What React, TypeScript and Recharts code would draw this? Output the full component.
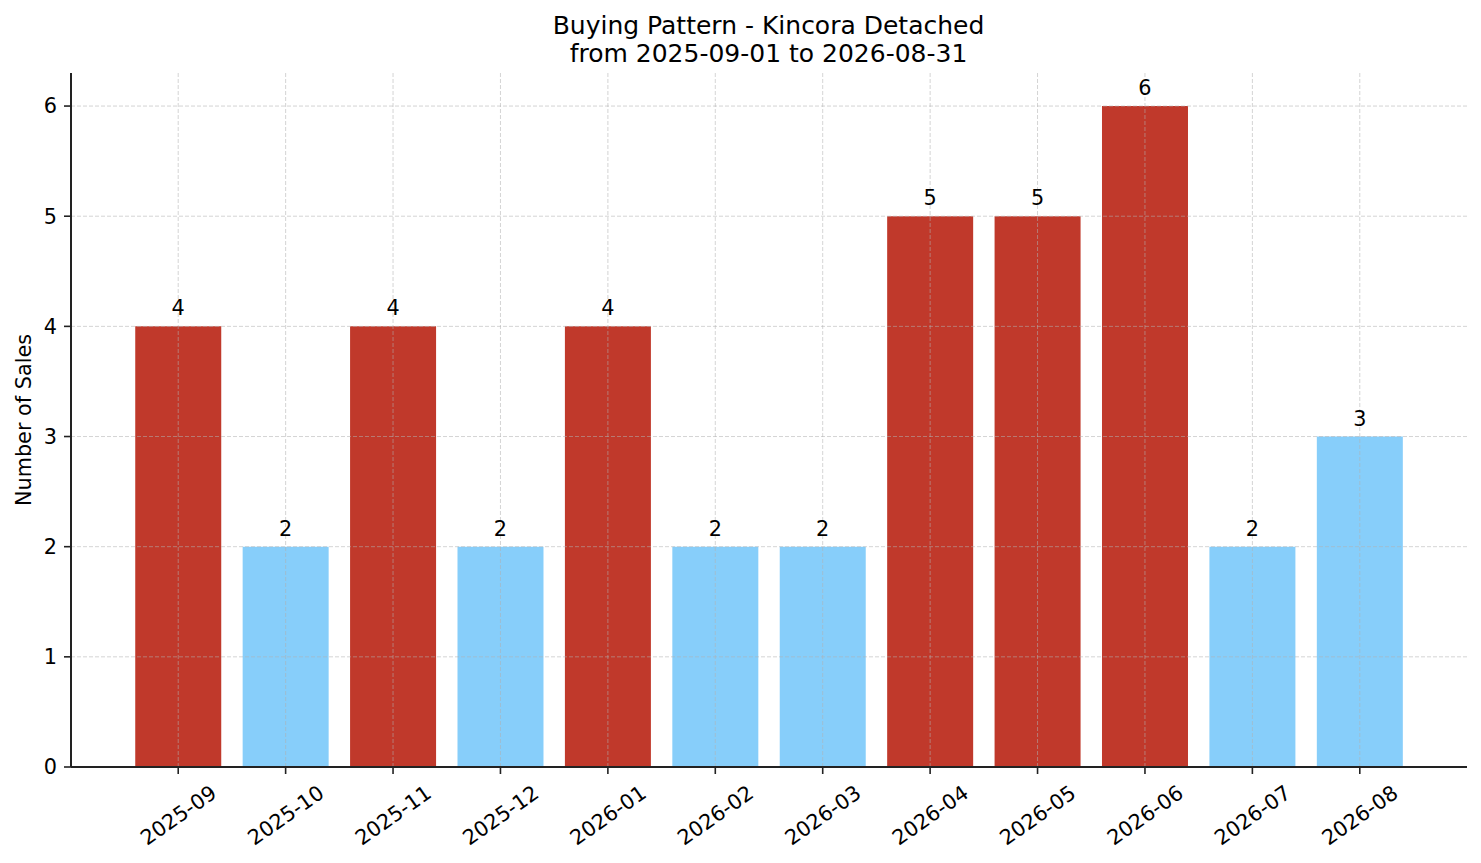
import { BarChart, Bar, XAxis, YAxis, CartesianGrid, Cell, LabelList } from 'recharts'

const months = [
  '2025-09', '2025-10', '2025-11', '2025-12', '2026-01', '2026-02',
  '2026-03', '2026-04', '2026-05', '2026-06', '2026-07', '2026-08',
]
const sales = [4, 2, 4, 2, 4, 2, 2, 5, 5, 6, 2, 3]
const yTicks = [0, 1, 2, 3, 4, 5, 6]

const title = 'Buying Pattern - Kincora Detached'
const subtitle = 'from 2025-09-01 to 2026-08-31'
const yLabel = 'Number of Sales'

const HIGH = '#c0392b'
const LOW = '#87cefa'
const FONT = '"DejaVu Sans", sans-serif'

const W = 1481
const H = 863

// months above the average get the red colour
const avg = sales.reduce((a, b) => a + b, 0) / sales.length
const chartData = months.map((month, i) => ({ month, sales: sales[i] }))

function MonthTick(props: any) {
  const { x, y, payload } = props
  const cy = y + 39
  return (
    <text
      x={x}
      y={cy}
      dy="0.36em"
      textAnchor="middle"
      transform={`rotate(-35, ${x}, ${cy})`}
      fontFamily={FONT}
      fontSize={20.8}
      fill="#000"
    >
      {payload.value}
    </text>
  )
}

function ValueLabel(props: any) {
  const { x, y, width, value } = props
  return (
    <text
      x={x + width / 2}
      y={y - 11}
      textAnchor="middle"
      fontFamily={FONT}
      fontSize={20.8}
      fill="#000"
    >
      {value}
    </text>
  )
}

export default function App() {
  return (
    <div style={{ position: 'absolute', left: 0, top: 0, width: W, height: H, background: '#fff' }}>
      <BarChart
        width={W}
        height={H}
        data={chartData}
        margin={{ top: 73, right: 14, bottom: 16, left: 11 }}
        barCategoryGap="10%"
      >
        <XAxis
          dataKey="month"
          height={80}
          padding={{ left: 53.5, right: 53.5 }}
          tickLine={{ stroke: '#222', strokeWidth: 1.6 }}
          axisLine={{ stroke: '#222', strokeWidth: 2 }}
          tickSize={7}
          tick={<MonthTick />}
          interval={0}
        />
        <YAxis
          width={60}
          domain={[0, 6.3]}
          ticks={yTicks}
          allowDataOverflow
          tickLine={{ stroke: '#222', strokeWidth: 1.6 }}
          axisLine={{ stroke: '#222', strokeWidth: 2 }}
          tickSize={7}
          tickMargin={7}
          tick={{ fontFamily: FONT, fontSize: 20.8, fill: '#000' }}
        />
        <Bar dataKey="sales" isAnimationActive={false}>
          {chartData.map((d) => (
            <Cell key={d.month} fill={d.sales > avg ? HIGH : LOW} />
          ))}
          <LabelList dataKey="sales" content={<ValueLabel />} />
        </Bar>
        <CartesianGrid
          zIndex={400}
          syncWithTicks
          stroke="#b0b0b0"
          strokeOpacity={0.55}
          strokeWidth={1}
          strokeDasharray="4 2"
        />
      </BarChart>
      <svg
        width={W}
        height={H}
        style={{ position: 'absolute', left: 0, top: 0, pointerEvents: 'none' }}
      >
        <text x={768.5} y={34} textAnchor="middle" fontFamily={FONT} fontSize={25} fill="#000">
          {title}
        </text>
        <text x={768.5} y={61.5} textAnchor="middle" fontFamily={FONT} fontSize={25} fill="#000">
          {subtitle}
        </text>
        <text
          x={23.5}
          y={420}
          dy="0.38em"
          textAnchor="middle"
          transform="rotate(-90, 23.5, 420)"
          fontFamily={FONT}
          fontSize={20.8}
          fill="#000"
        >
          {yLabel}
        </text>
      </svg>
    </div>
  )
}
